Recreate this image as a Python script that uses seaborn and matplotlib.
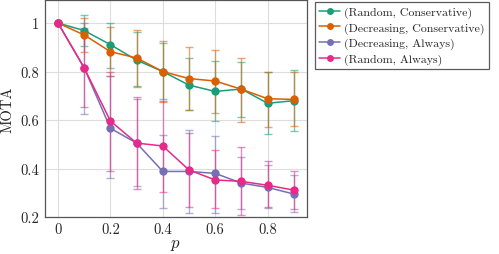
import numpy as np
import pandas as pd
import matplotlib
matplotlib.use("Agg")
import matplotlib.pyplot as plt
import seaborn as sns

p = [0.0, 0.1, 0.2, 0.3, 0.4, 0.5, 0.6, 0.7, 0.8, 0.9]
series_names = ["(Random, Conservative)", "(Decreasing, Conservative)",
                "(Decreasing, Always)", "(Random, Always)"]

rand_cons = [1.0, 0.969, 0.911, 0.847, 0.800, 0.744, 0.718, 0.728, 0.669, 0.680]
rand_cons_hi = [1.0, 1.035, 1.0, 0.965, 0.916, 0.855, 0.843, 0.840, 0.800, 0.806]
rand_cons_lo = [1.0, 0.905, 0.816, 0.740, 0.685, 0.640, 0.597, 0.614, 0.542, 0.556]

dec_cons = [1.0, 0.951, 0.882, 0.856, 0.800, 0.771, 0.761, 0.727, 0.688, 0.685]
dec_cons_hi = [1.0, 1.020, 0.985, 0.971, 0.926, 0.900, 0.889, 0.857, 0.800, 0.800]
dec_cons_lo = [1.0, 0.880, 0.780, 0.738, 0.676, 0.640, 0.627, 0.590, 0.573, 0.577]

dec_alw = [1.0, 0.815, 0.566, 0.505, 0.388, 0.388, 0.380, 0.340, 0.322, 0.295]
dec_alw_hi = [1.0, 1.0, 0.780, 0.685, 0.538, 0.559, 0.536, 0.449, 0.415, 0.373]
dec_alw_lo = [1.0, 0.625, 0.360, 0.330, 0.239, 0.218, 0.218, 0.232, 0.236, 0.222]

rand_alw = [1.0, 0.815, 0.596, 0.505, 0.493, 0.394, 0.353, 0.347, 0.331, 0.311]
rand_alw_hi = [1.0, 0.980, 0.800, 0.694, 0.680, 0.545, 0.476, 0.490, 0.431, 0.391]
rand_alw_lo = [1.0, 0.652, 0.391, 0.316, 0.305, 0.243, 0.239, 0.208, 0.240, 0.232]

means = [rand_cons, dec_cons, dec_alw, rand_alw]
his = [rand_cons_hi, dec_cons_hi, dec_alw_hi, rand_alw_hi]
los = [rand_cons_lo, dec_cons_lo, dec_alw_lo, rand_alw_lo]
colors = ["#1b9e77", "#d95f02", "#7570b3", "#e7298a"]

sns.set_theme(style="whitegrid")
plt.rcParams.update({
    "font.family": "serif",
    "font.serif": ["cmr10"],
    "mathtext.fontset": "cm",
    "axes.formatter.use_mathtext": True,
    "axes.unicode_minus": False,
})

df = pd.DataFrame({
    "p": np.tile(p, 4),
    "MOTA": np.concatenate(means),
    "series": np.repeat(series_names, len(p)),
})

fig = plt.figure(figsize=(4.99, 2.55), dpi=100)
ax = fig.add_axes([0.090, 0.145, 0.525, 0.851])

for m, hi, lo, c in zip(means, his, los, colors):
    m = np.array(m); hi = np.array(hi); lo = np.array(lo)
    ax.errorbar(p, m, yerr=[m - lo, hi - m], fmt="none", ecolor=c,
                alpha=0.55, elinewidth=1.0, capsize=3, capthick=1.0, zorder=2)

sns.lineplot(data=df, x="p", y="MOTA", hue="series", hue_order=series_names,
             palette=colors, marker="o", markersize=6, markeredgewidth=0,
             linewidth=1.1, ax=ax, zorder=3)

ax.set_xlim(-0.05, 0.95)
ax.set_ylim(0.2, 1.095)
ax.set_xticks([0, 0.2, 0.4, 0.6, 0.8])
ax.set_xticklabels(["0", "0.2", "0.4", "0.6", "0.8"])
ax.set_yticks([0.2, 0.4, 0.6, 0.8, 1.0])
ax.set_yticklabels(["0.2", "0.4", "0.6", "0.8", "1"])
ax.set_xlabel("$p$", fontsize=12, labelpad=0)
ax.set_ylabel("MOTA", fontsize=10.5, labelpad=4)
ax.tick_params(labelsize=10.5, length=0, pad=4)
ax.grid(True, color="#dddddd", linewidth=0.8)
ax.set_facecolor("white")
for s in ax.spines.values():
    s.set_color("#555555")
    s.set_linewidth(0.9)

leg = ax.legend(loc="upper left", bbox_to_anchor=(1.03, 0.99), frameon=True,
                fontsize=8.6, handlelength=1.8, handletextpad=0.3,
                borderpad=0.35, labelspacing=0.35, fancybox=False,
                borderaxespad=0)
leg.get_frame().set_edgecolor("#333333")
leg.get_frame().set_linewidth(0.9)
for h in leg.legend_handles:
    h.set_markersize(5)

fig.savefig("out.png", dpi=100)
